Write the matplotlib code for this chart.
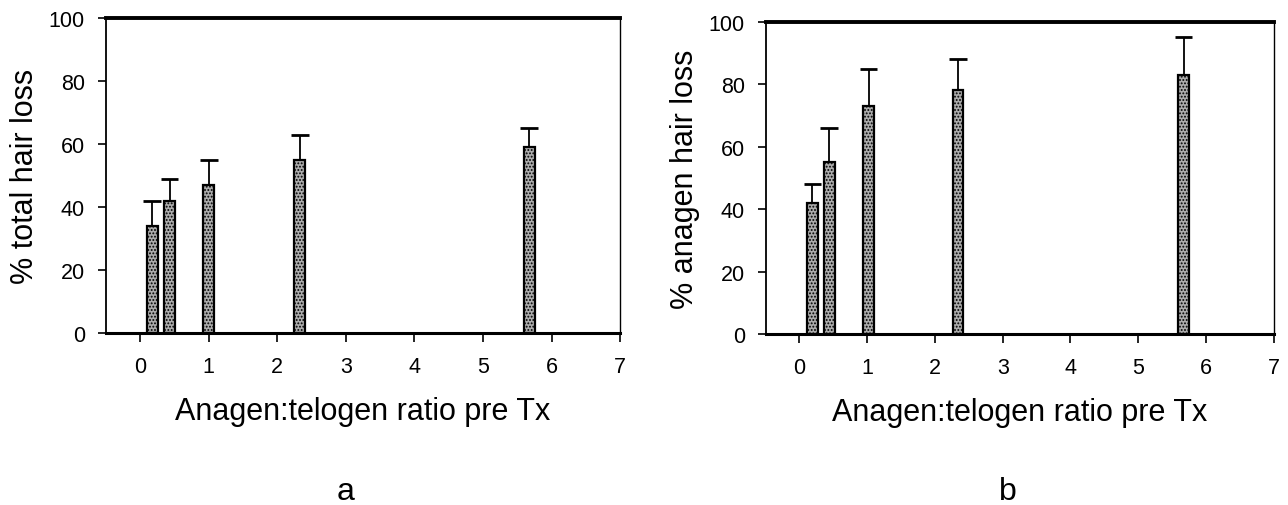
#!/usr/bin/env python3
"""Hair loss vs anagen:telogen ratio before treatment, two panels."""
import numpy as np
import matplotlib
matplotlib.use("Agg")
import matplotlib.pyplot as plt

plt.rcParams["font.family"] = ["Liberation Sans", "DejaVu Sans"]
plt.rcParams["hatch.color"] = "#3c3c3c"
plt.rcParams["hatch.linewidth"] = 0.9

RATIO_A = [0.18, 0.43, 1.0, 2.33, 5.67]
TOTAL_LOSS = [34, 42, 47, 55, 59]
TOTAL_ERR = [8, 7, 8, 8, 6]

RATIO_B = [0.19, 0.44, 1.02, 2.34, 5.67]
ANAGEN_LOSS = [42, 55, 73, 78, 83]
ANAGEN_ERR = [6, 11, 12, 10, 12]

XTICKS = list(range(0, 8))
YTICKS = [0, 20, 40, 60, 80, 100]

BAR_W = 0.16
CAP_HALF = 0.13


def draw_panel(ax, x, y, err, ylabel):
    x = np.asarray(x, dtype=float)
    y = np.asarray(y, dtype=float)
    top = y + np.asarray(err, dtype=float)
    ax.bar(x, y, width=BAR_W, color="#acacac", edgecolor="black",
           linewidth=1.6, hatch=".....", zorder=2)
    # one-sided error bars: stem up from the bar top plus a cap
    ax.vlines(x, y, top, colors="black", linewidth=1.3, zorder=3)
    ax.hlines(top, x - CAP_HALF, x + CAP_HALF, colors="black",
              linewidth=2.0, zorder=3)
    ax.set_xlim(-0.5, 7)
    ax.set_ylim(0, 100)
    ax.set_xticks(XTICKS)
    ax.set_yticks(YTICKS)
    ax.tick_params(axis="both", labelsize=15.5, direction="out", width=1.2)
    ax.tick_params(axis="x", length=6.5, pad=10)
    ax.tick_params(axis="y", length=6, pad=9)
    ax.set_ylabel(ylabel, fontsize=22, labelpad=6)
    ax.set_xlabel("Anagen:telogen ratio pre Tx", fontsize=22, labelpad=14)
    ax.spines["top"].set_linewidth(2.8)
    ax.spines["right"].set_linewidth(1.0)
    ax.spines["left"].set_linewidth(1.3)
    ax.spines["bottom"].set_linewidth(2.2)


fig = plt.figure(figsize=(12.88, 5.06), dpi=100)
ax_a = fig.add_axes([0.0821, 0.3399, 0.3995, 0.6225])
ax_b = fig.add_axes([0.5944, 0.3380, 0.3945, 0.6170])

draw_panel(ax_a, RATIO_A, TOTAL_LOSS, TOTAL_ERR, "% total hair loss")
draw_panel(ax_b, RATIO_B, ANAGEN_LOSS, ANAGEN_ERR, "% anagen hair loss")

fig.text(0.2686, 0.012, "a", ha="center", va="baseline", fontsize=23)
fig.text(0.7826, 0.012, "b", ha="center", va="baseline", fontsize=23)

fig.savefig("out.png", dpi=100)
